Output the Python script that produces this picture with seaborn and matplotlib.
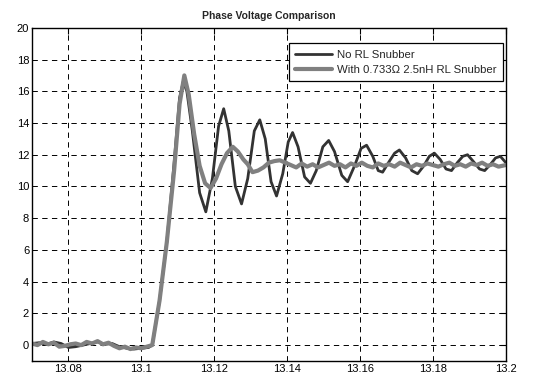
import matplotlib
matplotlib.use("Agg")
import matplotlib.pyplot as plt
import numpy as np
import pandas as pd
import seaborn as sns

# ── data ─────────────────────────────────────────────────────
t_no = [13.070, 13.072, 13.074, 13.076, 13.078, 13.080, 13.082, 13.084, 13.086, 13.088,
        13.090, 13.092, 13.094, 13.096, 13.098, 13.100, 13.102, 13.1030,
        13.1050, 13.1070, 13.1090, 13.1105, 13.1115, 13.1125,
        13.1140, 13.1160, 13.1177, 13.1195, 13.1212, 13.1226, 13.1240, 13.1258,
        13.1275, 13.1292, 13.1310, 13.1325, 13.1340, 13.1356, 13.1371, 13.1388,
        13.1403, 13.1415, 13.1430, 13.1448, 13.1464, 13.1480, 13.1498, 13.1514,
        13.1530, 13.1550, 13.1566, 13.1585, 13.1603, 13.1618, 13.1635, 13.1650,
        13.1662, 13.1678, 13.1695, 13.1708, 13.1725, 13.1742, 13.1758, 13.1775,
        13.1790, 13.1804, 13.1820, 13.1836, 13.1851, 13.1867, 13.1882, 13.1895,
        13.1910, 13.1928, 13.1942, 13.1958, 13.1972, 13.1985, 13.2000]
v_no = [0.1, 0.15, 0.05, 0.2, 0.1, -0.15, -0.1, 0.0, 0.1, 0.2,
        0.05, 0.1, -0.1, -0.2, -0.25, -0.2, -0.15, 0.0,
        2.8, 6.5, 11.5, 15.6, 16.6, 16.0,
        13.5, 9.6, 8.4, 10.5, 13.8, 14.9, 13.5, 10.0,
        8.9, 10.5, 13.5, 14.2, 13.0, 10.3, 9.4, 10.8,
        12.8, 13.4, 12.5, 10.6, 10.2, 11.0, 12.5, 12.9,
        12.2, 10.7, 10.3, 11.3, 12.4, 12.6, 11.9, 11.0,
        10.9, 11.5, 12.1, 12.3, 11.8, 11.0, 10.8, 11.3,
        11.9, 12.1, 11.7, 11.1, 11.0, 11.5, 11.9, 12.0,
        11.6, 11.1, 11.0, 11.4, 11.8, 11.9, 11.5]

t_rl = [13.070, 13.0715, 13.073, 13.0745, 13.076, 13.0775, 13.079, 13.0805, 13.082, 13.0835,
        13.085, 13.0865, 13.088, 13.0895, 13.091, 13.0925, 13.094, 13.0955, 13.097, 13.0985,
        13.100, 13.1015, 13.1030,
        13.1050, 13.1070, 13.1090, 13.1105, 13.1118, 13.1130, 13.1145, 13.1160,
        13.1175, 13.1190, 13.1205, 13.1220, 13.1235, 13.1251, 13.1265, 13.1280,
        13.1292, 13.1305, 13.1320, 13.1335, 13.1350, 13.1365, 13.1380, 13.1395,
        13.1410, 13.1425, 13.1440, 13.1455, 13.1470, 13.1485, 13.1500, 13.1515,
        13.1530, 13.1545, 13.1560, 13.1575, 13.1590, 13.1605, 13.1620, 13.1635,
        13.1650, 13.1665, 13.1680, 13.1695, 13.1710, 13.1725, 13.1740, 13.1755,
        13.1770, 13.1785, 13.1800, 13.1815, 13.1830, 13.1845, 13.1860, 13.1875,
        13.1890, 13.1905, 13.1920, 13.1935, 13.1950, 13.1965, 13.1980, 13.2000]
v_rl = [0.1, 0.0, 0.2, 0.05, 0.15, -0.1, -0.05, 0.05, 0.1, 0.0,
        0.2, 0.1, 0.25, 0.05, 0.15, -0.05, -0.2, -0.1, -0.25, -0.15,
        -0.2, -0.1, 0.0,
        2.8, 6.5, 11.0, 15.2, 17.0, 15.8, 13.3, 11.3,
        10.2, 9.9, 10.5, 11.4, 12.1, 12.5, 12.2, 11.7,
        11.4, 10.9, 11.0, 11.2, 11.5, 11.6, 11.65, 11.5,
        11.35, 11.2, 11.45, 11.25, 11.4, 11.2, 11.35, 11.5,
        11.3, 11.4, 11.2, 11.45, 11.3, 11.5, 11.3, 11.2,
        11.45, 11.3, 11.4, 11.25, 11.5, 11.35, 11.2, 11.4,
        11.3, 11.45, 11.35, 11.25, 11.4, 11.5, 11.3, 11.4,
        11.25, 11.45, 11.35, 11.5, 11.3, 11.4, 11.25, 11.35]

x_ticks = [13.08, 13.10, 13.12, 13.14, 13.16, 13.18, 13.20]
y_ticks = list(range(0, 21, 2))

LABEL_NO = "No RL Snubber"
LABEL_RL = "With 0.733Ω 2.5nH RL Snubber"

# ── style ─────────────────────────────────────────────────────
sns.set_theme(style="white")
plt.rcParams["font.family"] = ["Liberation Sans", "DejaVu Sans"]

fig = plt.figure(figsize=(5.51, 3.76), dpi=100)
ax = fig.add_axes([0.058, 0.040, 0.860, 0.886])

df_no = pd.DataFrame({"t": t_no, "v": v_no})
df_rl = pd.DataFrame({"t": t_rl, "v": v_rl})

sns.lineplot(data=df_no, x="t", y="v", ax=ax, color="#333333", lw=2.0,
             label=LABEL_NO, sort=False)
sns.lineplot(data=df_rl, x="t", y="v", ax=ax, color="#808080", lw=3.0,
             label=LABEL_RL, sort=False)

ax.set_xlim(13.07, 13.2)
ax.set_ylim(-1, 20)
ax.set_xticks(x_ticks)
ax.set_xticklabels([f"{v:g}" for v in x_ticks])
ax.set_yticks(y_ticks)
ax.set_xlabel("")
ax.set_ylabel("")
ax.grid(True, color="black", ls=(0, (5.5, 4.5)), lw=0.7)
ax.tick_params(direction="in", length=4, width=0.8, top=True, right=True,
               labelsize=8, colors="black", pad=2)
for s in ax.spines.values():
    s.set_color("black")
    s.set_linewidth(1.0)

ax.set_title("Phase Voltage Comparison", fontsize=7.5, fontweight="bold", pad=6)

leg = ax.legend(loc="upper right", bbox_to_anchor=(0.994, 0.953), fontsize=8.2,
                frameon=True, fancybox=False, framealpha=1, edgecolor="black",
                handlelength=3.2, borderpad=0.55, labelspacing=0.45, handletextpad=0.5,
                borderaxespad=0)
leg.get_frame().set_linewidth(0.9)

fig.savefig("out.png", dpi=100)
